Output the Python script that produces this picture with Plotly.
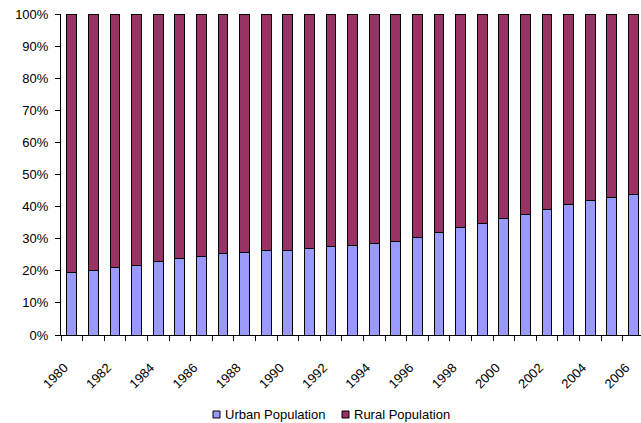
import plotly.graph_objects as go

# Urban share of total population (%), 1980-2006
years = list(range(1980, 2007))
urban = [19.39, 20.16, 21.13, 21.62, 23.01, 23.71, 24.52, 25.32, 25.81, 26.21,
         26.41, 26.94, 27.46, 27.99, 28.51, 29.04, 30.48, 31.91, 33.35, 34.78,
         36.22, 37.66, 39.09, 40.53, 41.76, 42.99, 43.90]
rural = [100 - u for u in urban]
year_labels = [str(y) for y in years[::2]]

series_names = ["Urban Population", "Rural Population"]
series_colors = ["#9999FF", "#993366"]

font = dict(family="Arial, Liberation Sans, sans-serif", size=13, color="#000000")

W, H = 641, 423
L, R, T, B = 61, 0, 14, 88
plot_w, plot_h = W - L - R, H - T - B
cat_px = 21.6  # pixel width of one year slot

fig = go.Figure()
for name, vals, col in zip(series_names, [urban, rural], series_colors):
    fig.add_trace(go.Bar(
        x=years, y=vals, name=name,
        marker=dict(color=col, line=dict(color="#000000", width=1)),
        width=0.45, showlegend=False,
    ))

# Compact legend below the plot: small outlined swatch followed by its label
def px_to_paper(px, py):
    return (px - L) / plot_w, (H - B - py) / plot_h

legend_x = [213, 342]
for x0, name, col in zip(legend_x, series_names, series_colors):
    ax0, ay0 = px_to_paper(x0, 418)
    ax1, ay1 = px_to_paper(x0 + 7, 411)
    fig.add_shape(type="rect", xref="paper", yref="paper",
                  x0=ax0, y0=ay0, x1=ax1, y1=ay1,
                  fillcolor=col, line=dict(color="#000000", width=1))
    tx, ty = px_to_paper(x0 + 10, 414.5)
    fig.add_annotation(xref="paper", yref="paper", x=tx, y=ty,
                       xanchor="left", yanchor="middle", showarrow=False,
                       text=name, font=font)

fig.update_layout(
    width=W, height=H,
    barmode="stack",
    plot_bgcolor="white", paper_bgcolor="white",
    font=font,
    margin=dict(l=L, r=R, t=T, b=B),
    showlegend=False,
    xaxis=dict(
        range=[1979.5, 1979.5 + plot_w / cat_px],
        # rotated labels end slightly left of each bar's centre
        tickmode="array", tickvals=[y - 0.35 for y in years[::2]], ticktext=year_labels,
        tickangle=-45, ticks="", showgrid=False, zeroline=False,
        ticklabelstandoff=19,
        showline=True, linecolor="#000000", linewidth=1,
        minor=dict(tickvals=[y - 0.5 for y in years] + [years[-1] + 0.5],
                   ticks="outside", ticklen=5, tickcolor="#000000", showgrid=False),
    ),
    yaxis=dict(
        range=[0, 100], tickvals=list(range(0, 101, 10)),
        ticktext=[f"{v}%" for v in range(0, 101, 10)],
        ticks="outside", ticklen=5, tickcolor="#000000",
        ticklabelstandoff=4,
        showgrid=False, zeroline=False,
        showline=True, linecolor="#000000", linewidth=1,
    ),
)

fig.write_html("out.html")
